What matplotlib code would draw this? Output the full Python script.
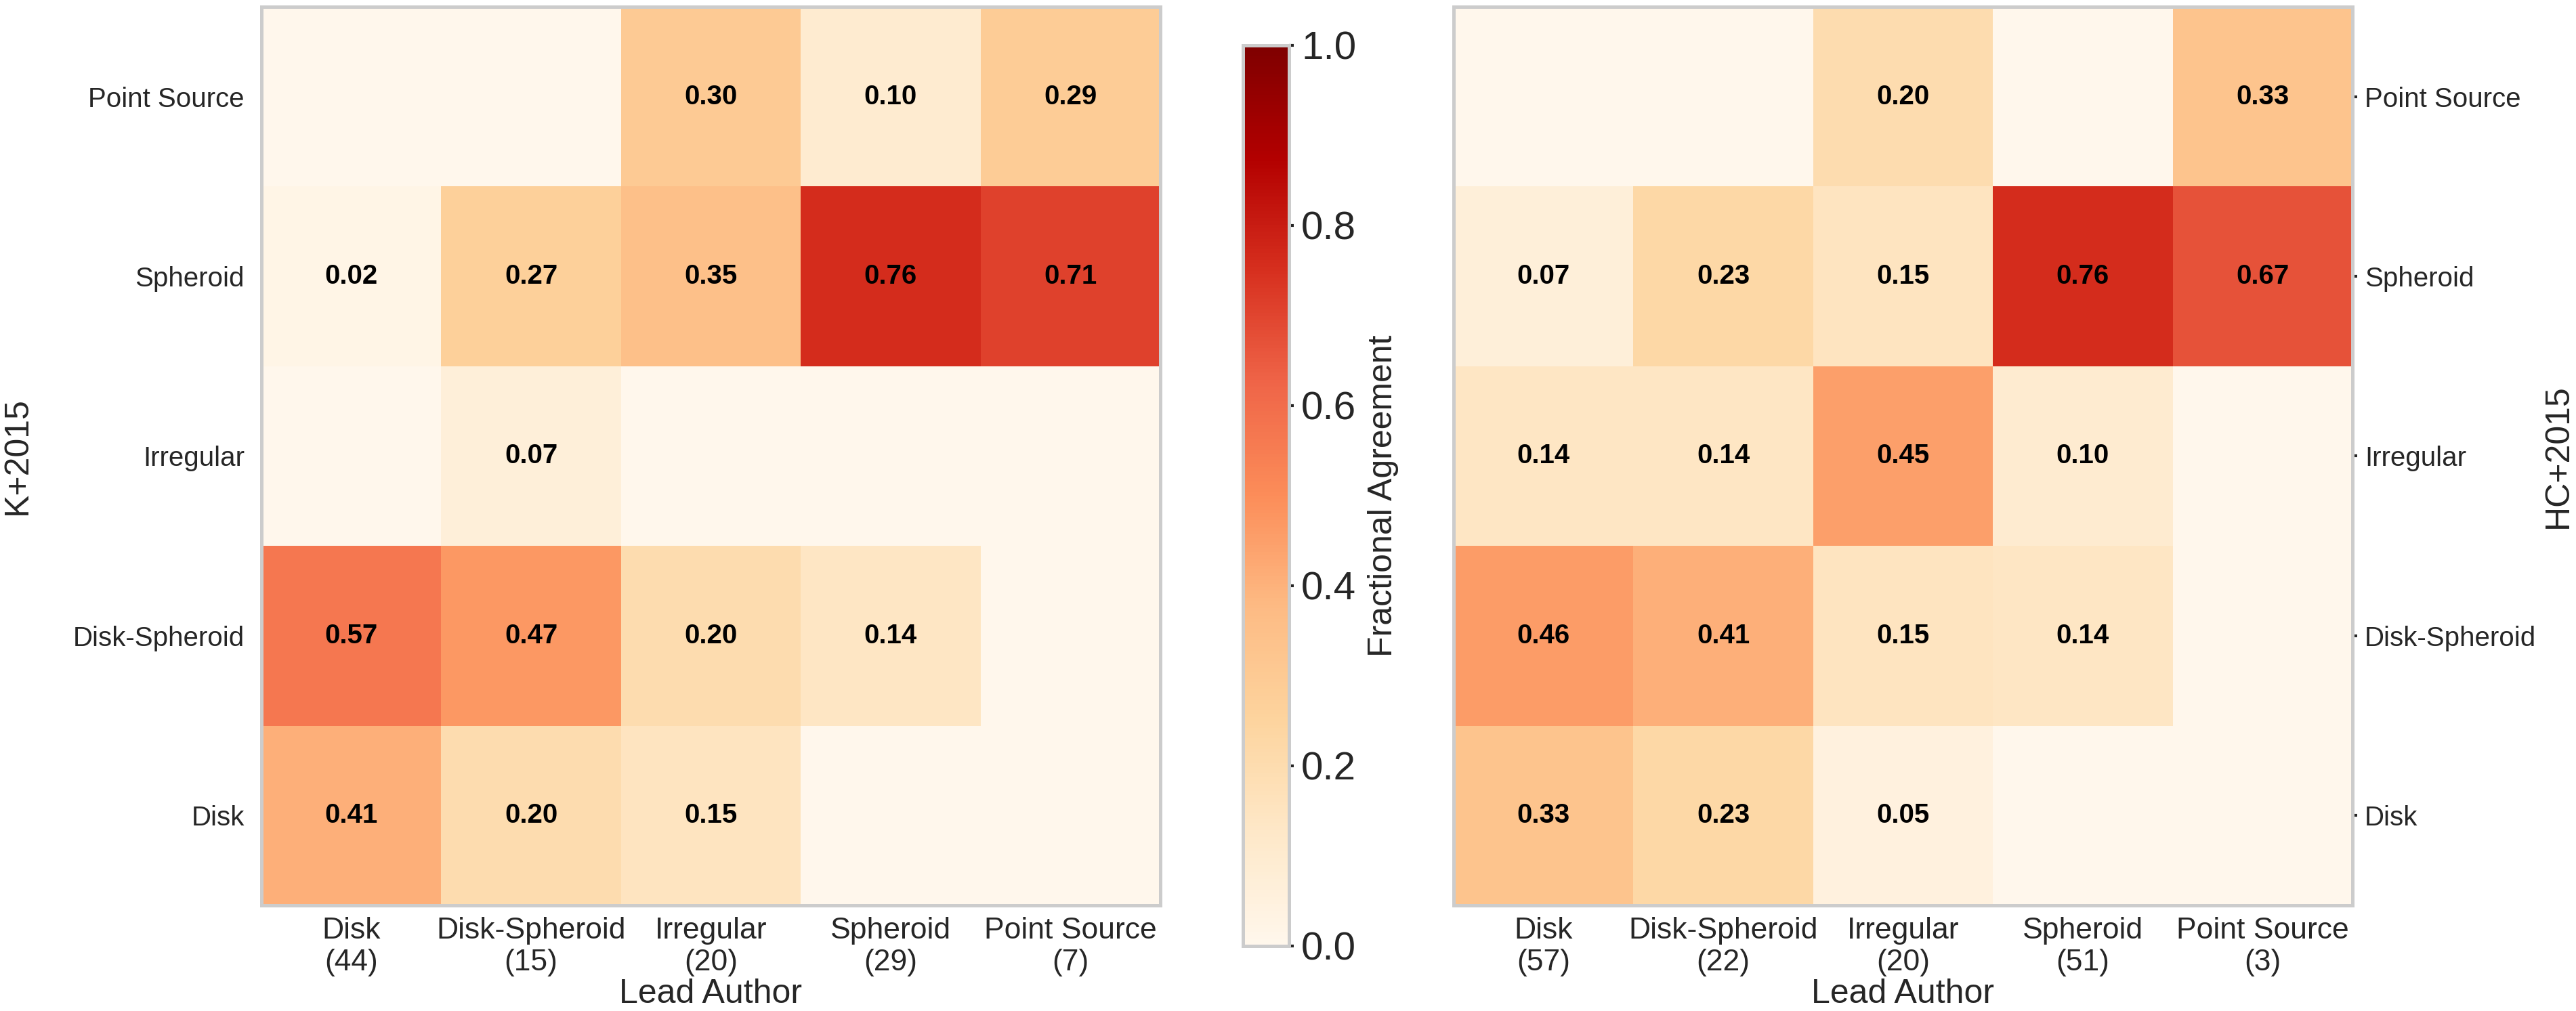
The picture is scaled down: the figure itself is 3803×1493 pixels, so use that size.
import numpy as np
import matplotlib
matplotlib.use("Agg")
import matplotlib.pyplot as plt
from matplotlib.colors import Normalize

plt.rcParams['font.family'] = ['Liberation Sans', 'DejaVu Sans']

row_labels = ["Point Source", "Spheroid", "Irregular", "Disk-Spheroid", "Disk"]
col_names = ["Disk", "Disk-Spheroid", "Irregular", "Spheroid", "Point Source"]
left_counts = [44, 15, 20, 29, 7]
right_counts = [57, 22, 20, 51, 3]

left_values = [
    [0.00, 0.00, 0.30, 0.10, 0.29],
    [0.02, 0.27, 0.35, 0.76, 0.71],
    [0.00, 0.07, 0.00, 0.00, 0.00],
    [0.57, 0.47, 0.20, 0.14, 0.00],
    [0.41, 0.20, 0.15, 0.00, 0.00],
]
right_values = [
    [0.00, 0.00, 0.20, 0.00, 0.33],
    [0.07, 0.23, 0.15, 0.76, 0.67],
    [0.14, 0.14, 0.45, 0.10, 0.00],
    [0.46, 0.41, 0.15, 0.14, 0.00],
    [0.33, 0.23, 0.05, 0.00, 0.00],
]
left_ylabel = "K+2015"
right_ylabel = "HC+2015"
xlabel = "Lead Author"
cbar_label = "Fractional Agreement"

W, H = 3803, 1493
fig = plt.figure(figsize=(W / 100, H / 100), dpi=100)
cmap = plt.get_cmap("OrRd")
norm = Normalize(0, 1)
spine_color = "#cccccc"
text_color = "#262626"


def px(x0, y0, x1, y1):
    return [x0 / W, 1 - y1 / H, (x1 - x0) / W, (y1 - y0) / H]


def draw(ax, vals, counts, ylabel, label_x, right=False):
    arr = np.array(vals)
    nr, nc = arr.shape
    mesh = ax.pcolormesh(np.arange(nc + 1), np.arange(nr + 1), arr[::-1],
                         cmap=cmap, norm=norm, edgecolors='face', linewidth=0)
    for i in range(nr):
        for j in range(nc):
            v = arr[i, j]
            if v > 0:
                ax.text(j + 0.5, nr - 1 - i + 0.5, f"{v:.2f}", ha='center', va='center',
                        fontsize=29, fontweight='bold', color='black')
    ax.set_xlim(0, nc)
    ax.set_ylim(0, nr)
    ax.set_xticks(np.arange(nc) + 0.5)
    ax.set_xticklabels([f"{c}\n({n})" for c, n in zip(col_names, counts)],
                       fontsize=32, color=text_color)
    ax.set_yticks(np.arange(nr) + 0.5)
    ax.set_yticklabels(row_labels[::-1], fontsize=29, color=text_color)
    ax.tick_params(axis='x', length=0, pad=12)
    if right:
        ax.yaxis.tick_right()
        ax.yaxis.set_label_position('right')
        ax.tick_params(axis='y', length=5, width=3, color=text_color, pad=8)
    else:
        ax.tick_params(axis='y', length=0, pad=18)
    lab = ax.set_ylabel(ylabel, fontsize=36, color=text_color)
    lab.set_rotation(90)
    lab.set_ha('center')
    lab.set_va('center')
    lab.set_rotation_mode('anchor')
    ax.yaxis.set_label_coords(label_x, 0.5)
    ax.set_xlabel(xlabel, fontsize=36, color=text_color, labelpad=2)
    for s in ax.spines.values():
        s.set_color(spine_color)
        s.set_linewidth(3.6)
    return mesh


ax1 = fig.add_axes(px(386, 10, 1713, 1337))
ax2 = fig.add_axes(px(2146, 10, 3473, 1337))
cax = fig.add_axes(px(1835, 67, 1903, 1397))

m = draw(ax1, left_values, left_counts, left_ylabel, (26 - 386) / 1327)
draw(ax2, right_values, right_counts, right_ylabel, (3777 - 2146) / 1327, right=True)

cb = fig.colorbar(m, cax=cax)
cb.set_ticks([0.0, 0.2, 0.4, 0.6, 0.8, 1.0])
cb.ax.tick_params(labelsize=42, length=5, width=3, color=text_color, labelcolor=text_color, pad=8)
cb.outline.set_edgecolor(spine_color)
cb.outline.set_linewidth(3.6)
cb.set_label(cbar_label, fontsize=36, color=text_color, labelpad=12)

fig.savefig("out.png", dpi=100)
